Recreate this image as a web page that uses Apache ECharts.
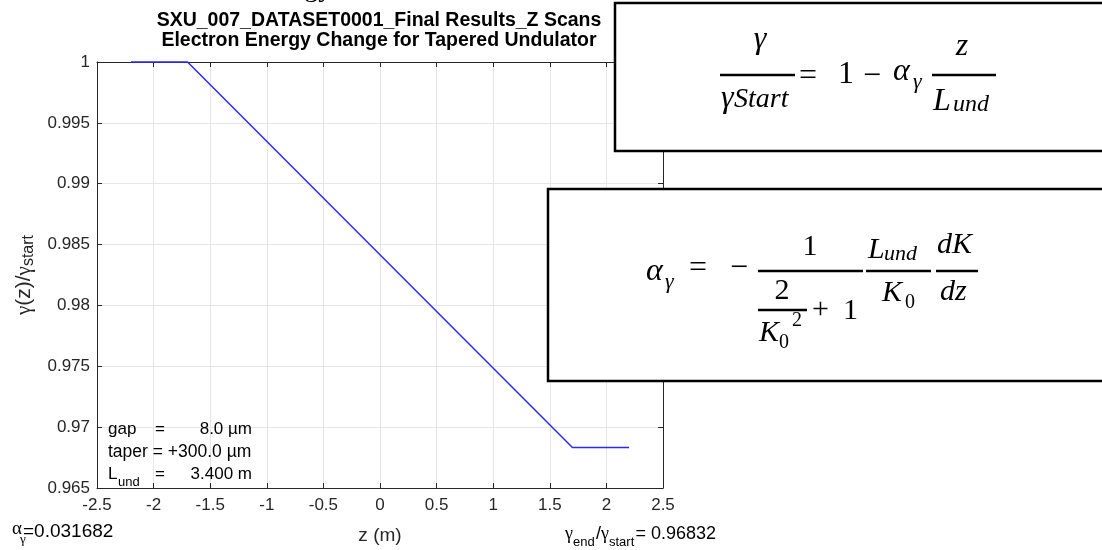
<!DOCTYPE html>
<html>
<head>
<meta charset="utf-8">
<script src="https://cdn.jsdelivr.net/npm/echarts@6/dist/echarts.min.js"></script>
<style>
  html, body { margin: 0; padding: 0; background: #fff; }
  #chart { width: 1102px; height: 550px; }
</style>
</head>
<body>
<div id="chart"></div>
<script>
// --- DATA ---
const zPositions = [-2.2, -1.7, 1.7, 2.2];
const gammaRatio = [1, 1, 0.96832, 0.96832];
const xTicks = { min: -2.5, max: 2.5, step: 0.5 };
const yTicks = { min: 0.965, max: 1, step: 0.005 };
const infoLines = [
    { name: 'gap', sub: '', value: '8.0 µm' },
    { name: 'taper', sub: '', value: '+300.0 µm' },
    { name: 'L', sub: 'und', value: '3.400 m' }
];
const alphaGamma = '0.031682';
const gammaEnd = '0.96832';

// --- STYLE ---
const SANS = "'Liberation Sans', Arial, sans-serif";
const SERIF = "'Liberation Serif', 'Times New Roman', serif";
const AXIS = '#262626';

// text placed by its baseline (canvas 'middle' sits ~0.34em above it)
const txt = (text, x, base, size, opts = {}) => ({
    type: 'text', z: 110,
    x: x, y: base - 0.34 * size,
    style: {
        text: text,
        font: `${opts.italic ? 'italic ' : ''}${opts.bold ? 'bold ' : ''}${size}px ${opts.family || SERIF}`,
        fill: opts.color || '#000',
        align: opts.align || 'left', textAlign: opts.align || 'left',
        verticalAlign: 'middle', textVerticalAlign: 'middle'
    }
});
const bar = (x1, x2, y, w = 2.5) => ({
    type: 'line', z: 110,
    shape: { x1: x1, y1: y, x2: x2, y2: y },
    style: { stroke: '#000', lineWidth: w }
});
const box = (x, y, w, h) => ({
    type: 'rect', z: 100,
    shape: { x: x, y: y, width: w, height: h },
    style: { fill: '#fff', stroke: '#000', lineWidth: 2.5 }
});

const fmt = v => String(parseFloat(v.toFixed(3)));

const chart = echarts.init(document.getElementById('chart'), null, { renderer: 'canvas' });

const graphics = [
    // cut-off slide heading
    txt('Energy', 252, -2, 28),
    // titles
    txt('SXU_007_DATASET0001_Final Results_Z Scans', 379, 27, 19.5, { family: SANS, bold: true, align: 'center' }),
    txt('Electron Energy Change for Tapered Undulator', 379, 47, 19.5, { family: SANS, bold: true, align: 'center' }),

    // parameter block inside the axes
    txt(infoLines[0].name, 108, 435, 17, { family: SANS }),
    txt('=', 155, 435, 17, { family: SANS }),
    txt(infoLines[0].value, 252, 435, 17, { family: SANS, align: 'right' }),
    txt(infoLines[1].name + ' = ' + infoLines[1].value, 108, 458, 17.5, { family: SANS }),
    txt(infoLines[2].name, 108, 480, 17, { family: SANS }),
    txt(infoLines[2].sub, 118, 487, 13, { family: SANS }),
    txt('=', 155, 480, 17, { family: SANS }),
    txt(infoLines[2].value, 252, 480, 17, { family: SANS, align: 'right' }),

    // bottom annotations
    txt('α', 12, 535, 19),
    txt('γ', 20, 544, 13),
    txt('=' + alphaGamma, 23, 538, 19, { family: SANS }),
    txt('γ', 565, 540, 18),
    txt('end', 573, 547, 13, { family: SANS }),
    txt('/', 596, 540, 18, { family: SANS }),
    txt('γ', 601, 540, 18),
    txt('start', 609, 547, 13, { family: SANS }),
    txt('= ' + gammaEnd, 716, 540, 18, { family: SANS, align: 'right' }),

    // formula box 1
    box(615, 3, 520, 148),
    txt('γ', 760, 50, 32, { italic: true, align: 'center' }),
    bar(720, 795, 75),
    txt('γ', 721, 109, 32, { italic: true }),
    txt('Start', 734, 109, 28, { italic: true }),
    txt('=', 799, 87, 32),
    txt('1', 838, 85, 32),
    txt('−', 863, 87, 32),
    txt('α', 893, 82, 32, { italic: true }),
    txt('γ', 913, 90, 22, { italic: true }),
    txt('z', 962, 57, 32, { italic: true, align: 'center' }),
    bar(932, 996, 75),
    txt('L', 933, 112, 32, { italic: true }),
    txt('und', 953, 113, 24, { italic: true }),

    // formula box 2
    box(548, 189, 600, 192),
    txt('α', 646, 282, 32, { italic: true }),
    txt('γ', 665, 290, 22, { italic: true }),
    txt('=', 689, 279, 32),
    txt('−', 730, 279, 32),
    txt('1', 810, 257, 30, { align: 'center' }),
    bar(758, 863, 271),
    txt('2', 782, 301, 30, { align: 'center' }),
    bar(758, 807, 310),
    txt('K', 759, 343, 30, { italic: true }),
    txt('0', 779, 350, 20),
    txt('2', 792, 328, 20),
    txt('+', 812, 320, 30),
    txt('1', 843, 321, 30),
    txt('L', 868, 260, 30, { italic: true }),
    txt('und', 884, 262, 22, { italic: true }),
    bar(866, 931, 271),
    txt('K', 882, 303, 30, { italic: true }),
    txt('0', 905, 310, 20),
    txt('dK', 937, 255, 30, { italic: true }),
    bar(936, 978, 271),
    txt('dz', 940, 302, 30, { italic: true })
];

const baseX = {
    type: 'value', min: xTicks.min, max: xTicks.max, interval: xTicks.step,
    axisLine: { onZero: false, lineStyle: { color: AXIS, width: 1 } },
    axisTick: { inside: true, length: 5, lineStyle: { color: AXIS } }
};
const baseY = {
    type: 'value', min: yTicks.min, max: yTicks.max, interval: yTicks.step,
    axisLine: { onZero: false, lineStyle: { color: AXIS, width: 1 } },
    axisTick: { inside: true, length: 5, lineStyle: { color: AXIS } }
};

const option = {
    animation: false,
    backgroundColor: '#fff',
    grid: { left: 97, right: 439, top: 62, bottom: 59 },
    xAxis: [
        Object.assign({}, baseX, {
            position: 'bottom',
            axisLabel: { fontSize: 17, fontFamily: SANS, color: AXIS, margin: 9, formatter: fmt },
            splitLine: { show: true, lineStyle: { color: '#e6e6e6' } },
            name: 'z (m)', nameLocation: 'middle', nameGap: 38,
            nameTextStyle: { fontSize: 19, fontFamily: SANS, color: AXIS }
        }),
        Object.assign({}, baseX, {
            position: 'top', axisLabel: { show: false }, splitLine: { show: false }
        })
    ],
    yAxis: [
        Object.assign({}, baseY, {
            position: 'left',
            axisLabel: { fontSize: 17, fontFamily: SANS, color: AXIS, margin: 7, formatter: fmt },
            splitLine: { show: true, lineStyle: { color: '#e6e6e6' } },
            name: '{g|γ}(z)/{g|γ}{s|start}', nameLocation: 'middle', nameGap: 57,
            nameTextStyle: {
                fontSize: 21, fontFamily: SANS, color: AXIS,
                rich: {
                    g: { fontFamily: SERIF, fontSize: 21, color: AXIS },
                    s: { fontFamily: SANS, fontSize: 16, color: AXIS, verticalAlign: 'bottom', padding: [9, 0, 0, 0] }
                }
            }
        }),
        Object.assign({}, baseY, {
            position: 'right', axisLabel: { show: false }, splitLine: { show: false }
        })
    ],
    graphic: graphics,
    series: [{
        type: 'line',
        data: zPositions.map((z, i) => [z, gammaRatio[i]]),
        showSymbol: false,
        clip: false,
        lineStyle: { color: '#2a2aff', width: 1.5 }
    }]
};

chart.setOption(option);
</script>
</body>
</html>
